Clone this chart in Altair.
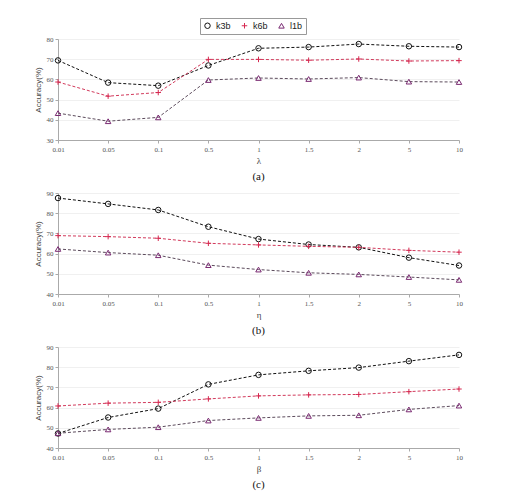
import pandas as pd
import altair as alt

SERIF = "Liberation Serif"
SANS = "Liberation Sans"

ticks = ["0.01", "0.05", "0.1", "0.5", "1", "1.5", "2", "5", "10"]
series = ["k3b", "k6b", "l1b"]

# panel (a): lambda
a_k3b = [69.4, 58.4, 56.9, 66.9, 75.4, 76.0, 77.5, 76.4, 76.0]
a_k6b = [58.7, 51.7, 53.5, 69.9, 69.9, 69.5, 70.1, 69.1, 69.3]
a_l1b = [43.3, 39.3, 41.2, 59.7, 60.7, 60.2, 60.9, 58.9, 58.7]

# panel (b): eta
b_k3b = [87.5, 84.6, 81.6, 73.3, 67.2, 64.5, 63.1, 58.0, 54.1]
b_k6b = [68.9, 68.4, 67.6, 65.1, 64.3, 63.6, 63.1, 61.6, 60.7]
b_l1b = [62.3, 60.5, 59.2, 54.3, 52.1, 50.5, 49.7, 48.4, 47.0]

# panel (c): beta
c_k3b = [47.2, 55.1, 59.5, 71.5, 76.2, 78.2, 79.8, 83.0, 86.1]
c_k6b = [60.8, 62.2, 62.6, 64.3, 65.8, 66.3, 66.5, 67.9, 69.2]
c_l1b = [47.3, 49.2, 50.3, 53.6, 54.9, 55.9, 56.2, 59.1, 61.0]

line_colors = ["#111111", "#d23a5c", "#5c4b5c"]
marker_colors = ["#111111", "#d62850", "#7a2a72"]
plus_path = "M-1,0H1M0,-1V1"
shapes = ["circle", plus_path, "triangle-up"]


def frame(k3b, k6b, l1b):
    rows = []
    for name, vals in zip(series, [k3b, k6b, l1b]):
        for t, v in zip(ticks, vals):
            rows.append({"param": t, "series": name, "acc": v})
    return pd.DataFrame(rows)


def panel(df, ymin, ymax, xtitle, caption, show_legend):
    x = alt.X(
        "param:N",
        sort=ticks,
        title=xtitle,
        scale=alt.Scale(type="point", padding=0),
        axis=alt.Axis(labelAngle=0, grid=False, titleFont=SERIF, titleFontSize=9,
                      titlePadding=4),
    )
    y = alt.Y(
        "acc:Q",
        title="Accuracy(%)",
        scale=alt.Scale(domain=[ymin, ymax], nice=False, zero=False),
        axis=alt.Axis(values=list(range(ymin, ymax + 1, 10)), grid=True,
                      titleFont=SANS, titleFontSize=8, titlePadding=4),
    )
    lines = (
        alt.Chart(df)
        .mark_line(strokeDash=[3, 2], strokeWidth=1)
        .encode(
            x=x,
            y=y,
            color=alt.Color("series:N", scale=alt.Scale(domain=series, range=line_colors),
                            legend=None),
        )
    )
    if show_legend:
        leg = alt.Legend(
            orient="none", legendX=142, legendY=-21, direction="horizontal",
            title=None, strokeColor="#999", fillColor="white", padding=3,
            labelFont=SANS, labelFontSize=9, labelColor="#222",
            symbolSize=30, symbolStrokeWidth=1, columnPadding=8,
        )
    else:
        leg = None
    stroke_kw = dict(scale=alt.Scale(domain=series, range=marker_colors))
    shape_kw = dict(scale=alt.Scale(domain=series, range=shapes))
    if leg is not None:
        stroke_kw["legend"] = leg
        shape_kw["legend"] = leg
    else:
        stroke_kw["legend"] = None
        shape_kw["legend"] = None
    points = (
        alt.Chart(df)
        .mark_point(filled=False, size=30, strokeWidth=1, opacity=1)
        .encode(
            x=x,
            y=y,
            stroke=alt.Stroke("series:N", **stroke_kw),
            shape=alt.Shape("series:N", **shape_kw),
        )
    )
    return (lines + points).properties(
        width=401,
        height=101,
        title=alt.TitleParams(caption, orient="bottom", font=SERIF, fontSize=11,
                              fontWeight="normal", color="#111", offset=6),
    )


pa = panel(frame(a_k3b, a_k6b, a_l1b), 30, 80, "λ", "(a)", True)
pb = panel(frame(b_k3b, b_k6b, b_l1b), 40, 90, "η", "(b)", False)
pc = panel(frame(c_k3b, c_k6b, c_l1b), 40, 90, "β", "(c)", False)

chart = (
    alt.vconcat(pa, pb, pc, spacing=7)
    .resolve_legend(stroke="independent", shape="independent")
    .properties(padding={"left": 26, "top": 9, "right": 5, "bottom": 5})
    .configure_view(stroke=None)
    .configure_axis(
        domainColor="#aaaaaa",
        tickColor="#aaaaaa",
        tickSize=3,
        gridColor="#f0f0f0",
        labelFont=SERIF,
        labelFontSize=7,
        labelColor="#555",
        titleColor="#444",
        titleFontWeight="normal",
    )
)

chart.save("out.html", embed_options={"renderer": "svg", "actions": False})
